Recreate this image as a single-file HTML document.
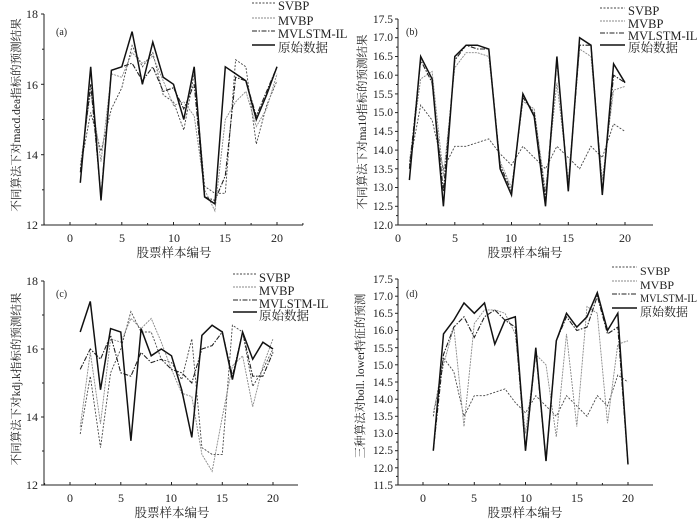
<!DOCTYPE html>
<html><head><meta charset="utf-8"><style>
html,body{margin:0;padding:0;background:#fff;}
svg{display:block;}
text{font-family:"Liberation Serif","Noto Serif CJK SC",serif;fill:#222;}
</style></head><body>
<svg id="s" width="700" height="522" viewBox="0 0 700 522" xmlns="http://www.w3.org/2000/svg">
<g font-size="12">
<!-- panel a -->
<text x="56" y="35" font-size="10">(a)</text>
<text x="38" y="18" text-anchor="end">18</text>
<text x="38" y="89" text-anchor="end">16</text>
<text x="38" y="159" text-anchor="end">14</text>
<text x="38" y="229" text-anchor="end">12</text>
<text x="70" y="242" text-anchor="middle">0</text>
<text x="122" y="242" text-anchor="middle">5</text>
<text x="174" y="242" text-anchor="middle">10</text>
<text x="225" y="242" text-anchor="middle">15</text>
<text x="277" y="242" text-anchor="middle">20</text>
<text x="174" y="257" text-anchor="middle" font-size="12.5">股票样本编号</text>
<text transform="translate(20,115) rotate(-90)" text-anchor="middle" font-size="11.5">不同算法下对macd.dea指标的预测结果</text>
<g font-size="12.5">
<text x="278" y="10">SVBP</text>
<text x="278" y="25">MVBP</text>
<text x="278" y="38">MVLSTM-IL</text>
<text x="278" y="52">原始数据</text>
</g>
<!-- panel b -->
<text x="406" y="35" font-size="10">(b)</text>
<g text-anchor="end" font-size="11.5">
<text x="393" y="23">17.5</text><text x="393" y="41">17.0</text><text x="393" y="60">16.5</text><text x="393" y="79">16.0</text><text x="393" y="98">15.5</text><text x="393" y="116">15.0</text><text x="393" y="135">14.5</text><text x="393" y="154">14.0</text><text x="393" y="173">13.5</text><text x="393" y="191">13.0</text><text x="393" y="210">12.5</text><text x="393" y="229">12.0</text>
</g>
<text x="398" y="242" text-anchor="middle">0</text>
<text x="455" y="242" text-anchor="middle">5</text>
<text x="511" y="242" text-anchor="middle">10</text>
<text x="568" y="242" text-anchor="middle">15</text>
<text x="625" y="242" text-anchor="middle">20</text>
<text x="525" y="257" text-anchor="middle" font-size="12.5">股票样本编号</text>
<text transform="translate(366,122) rotate(-90)" text-anchor="middle" font-size="11.5">不同算法下对ma10指标的预测结果</text>
<g font-size="12.5">
<text x="628" y="15">SVBP</text>
<text x="628" y="28">MVBP</text>
<text x="628" y="40">MVLSTM-IL</text>
<text x="628" y="52">原始数据</text>
</g>
<!-- panel c -->
<text x="56" y="297" font-size="10">(c)</text>
<text x="38" y="285" text-anchor="end">18</text>
<text x="38" y="353" text-anchor="end">16</text>
<text x="38" y="421" text-anchor="end">14</text>
<text x="38" y="489" text-anchor="end">12</text>
<text x="70" y="502" text-anchor="middle">0</text>
<text x="121" y="502" text-anchor="middle">5</text>
<text x="171" y="502" text-anchor="middle">10</text>
<text x="222" y="502" text-anchor="middle">15</text>
<text x="273" y="502" text-anchor="middle">20</text>
<text x="172" y="517" text-anchor="middle" font-size="12.5">股票样本编号</text>
<text transform="translate(20,379) rotate(-90)" text-anchor="middle" font-size="11.5">不同算法下对kdj.k指标的预测结果</text>
<g font-size="12.5">
<text x="259" y="282">SVBP</text>
<text x="259" y="295">MVBP</text>
<text x="259" y="308">MVLSTM-IL</text>
<text x="259" y="320">原始数据</text>
</g>
<!-- panel d -->
<text x="406" y="297" font-size="10">(d)</text>
<g text-anchor="end" font-size="11.5">
<text x="393" y="283">17.5</text><text x="393" y="300">17.0</text><text x="393" y="317">16.5</text><text x="393" y="334">16.0</text><text x="393" y="352">15.5</text><text x="393" y="369">15.0</text><text x="393" y="386">14.5</text><text x="393" y="403">14.0</text><text x="393" y="420">13.5</text><text x="393" y="437">13.0</text><text x="393" y="454">12.5</text><text x="393" y="472">12.0</text><text x="393" y="489">11.5</text>
</g>
<text x="423" y="502" text-anchor="middle">0</text>
<text x="474" y="502" text-anchor="middle">5</text>
<text x="526" y="502" text-anchor="middle">10</text>
<text x="577" y="502" text-anchor="middle">15</text>
<text x="628" y="502" text-anchor="middle">20</text>
<text x="525" y="517" text-anchor="middle" font-size="12.5">股票样本编号</text>
<text transform="translate(364,376) rotate(-90)" text-anchor="middle" font-size="11.5">三种算法对boll. lower特征的预测</text>
<g font-size="12">
<text x="640" y="275">SVBP</text>
<text x="640" y="289">MVBP</text>
<text x="640" y="302" textLength="57" lengthAdjust="spacingAndGlyphs">MVLSTM-IL</text>
<text x="640" y="316">原始数据</text>
</g>
</g>
<g id="plots"></g>
</svg>
<script>
var P=[
{ax:44,x0:70,x20:277,xr:303,yt:14,yb:225,vmax:18,vmin:12,step:2,leg:[252,275,[6,21,34,48]],
d:[
[13.6,15.2,14.1,15.3,15.9,17.1,16.5,16.9,15.7,15.5,14.7,16.3,13.1,12.9,12.9,16.7,16.5,14.3,15.4,16.1],
[13.7,15.8,13.8,16.3,16.2,16.9,16.6,16.8,16.1,15.4,15.5,15.1,13.0,12.4,15.0,15.5,15.8,14.8,15.3,16.3],
[13.5,16.0,12.8,16.4,16.5,16.6,16.1,16.5,15.8,15.9,15.3,16.0,12.8,12.7,13.4,16.2,16.1,15.1,15.8,16.5],
[13.2,16.5,12.7,16.4,16.5,17.5,16.0,17.2,16.2,16.0,15.0,16.5,12.8,12.6,16.5,16.3,16.1,15.0,15.7,16.5]]},
{ax:398,x0:398,x20:625,xr:653,yt:19,yb:225,vmax:17.5,vmin:12,step:0.5,leg:[600,625,[11,24,36,48]],
d:[
[13.6,15.2,14.8,13.5,14.1,14.1,14.2,14.3,13.9,13.6,14.1,13.8,13.5,14.1,13.8,13.5,14.1,13.8,14.7,14.5],
[13.7,15.9,16.1,13.3,16.2,16.6,16.6,16.5,13.7,13.0,15.3,15.1,12.9,15.8,13.2,16.7,16.5,13.2,15.6,15.7],
[13.5,16.4,15.8,12.9,16.4,16.8,16.7,16.7,13.6,12.9,15.4,15.0,12.7,16.4,13.0,16.8,16.8,12.9,16.0,15.8],
[13.2,16.5,15.9,12.5,16.5,16.8,16.8,16.7,13.5,12.8,15.5,14.9,12.5,16.5,12.9,17.0,16.8,12.8,16.3,15.8]]},
{ax:44,x0:70,x20:273,xr:298,yt:281,yb:485,vmax:18,vmin:12,step:2,leg:[233,257,[277,290,303,315]],
d:[
[13.5,15.2,13.1,15.3,16.0,17.1,16.5,16.5,15.7,15.6,15.1,16.3,13.1,12.9,12.9,16.7,16.5,14.9,15.4,16.0],
[13.7,15.9,13.8,16.3,16.2,16.9,16.6,16.9,16.2,15.4,14.7,14.6,12.9,12.4,14.0,15.5,15.8,14.3,15.5,16.3],
[15.4,16.0,15.7,16.4,15.3,15.2,15.9,15.6,15.7,15.4,15.3,15.0,16.0,16.1,16.5,15.2,16.5,15.2,15.2,15.9],
[16.5,17.4,14.8,16.6,16.5,13.3,16.6,15.8,16.0,15.8,14.8,13.4,16.4,16.7,16.5,15.1,16.5,15.7,16.2,16.0]]},
{ax:398,x0:423,x20:628,xr:653,yt:279,yb:485,vmax:17.5,vmin:11.5,step:0.5,leg:[612,637,[270,284,297,311]],
d:[
[13.5,15.2,14.8,13.5,14.1,14.1,14.2,14.3,13.9,13.6,14.1,13.8,13.5,14.1,13.8,13.5,14.1,13.8,14.7,14.5],
[13.6,15.0,16.1,13.2,16.2,16.6,16.6,16.5,15.9,13.0,15.3,15.0,12.9,15.9,13.2,16.7,16.5,13.3,15.6,15.7],
[12.5,15.3,16.1,16.4,15.8,16.4,16.6,16.3,16.1,12.5,15.4,12.2,15.7,16.4,16.0,16.1,17.0,15.9,16.1,12.1],
[12.5,15.9,16.3,16.8,16.5,16.8,15.6,16.3,16.4,12.5,15.5,12.2,15.7,16.5,16.1,16.4,17.1,16.0,16.5,12.1]]}
];
var ST=[
{c:"#444",w:0.9,da:"2,1.5"},
{c:"#888",w:0.9,da:"2,1"},
{c:"#222",w:1.1,da:"5,1.5,1.5,1.5"},
{c:"#111",w:1.5,da:""}];
var h="";
P.forEach(function(p){
 var sx=function(v){return p.x0+(p.x20-p.x0)*v/20;};
 var sy=function(v){return p.yb-(p.yb-p.yt)*(v-p.vmin)/(p.vmax-p.vmin);};
 h+='<path d="M'+p.ax+' '+p.yt+'V'+p.yb+'H'+p.xr+'" fill="none" stroke="#222" stroke-width="1"/>';
 for(var v=p.vmin;v<=p.vmax+1e-6;v+=p.step){var y=sy(v).toFixed(1);h+='<line x1="'+(p.ax-3)+'" y1="'+y+'" x2="'+p.ax+'" y2="'+y+'" stroke="#222"/>';}
 for(var v=p.vmin+p.step/2;v<p.vmax;v+=p.step){var y=sy(v).toFixed(1);h+='<line x1="'+(p.ax-2)+'" y1="'+y+'" x2="'+p.ax+'" y2="'+y+'" stroke="#222"/>';}
 for(var k=-2.5;k<=22.5;k+=2.5){var x=sx(k);if(x<p.ax||x>p.xr)continue;var L=(k%5==0)?3:2;h+='<line x1="'+x.toFixed(1)+'" y1="'+p.yb+'" x2="'+x.toFixed(1)+'" y2="'+(p.yb-L)+'" stroke="#222"/>';}
 p.d.forEach(function(s,i){
  var pts=s.map(function(v,j){return sx(j+1).toFixed(1)+','+sy(v).toFixed(1);}).join(' ');
  var st=ST[i];
  h+='<polyline points="'+pts+'" fill="none" stroke="'+st.c+'" stroke-width="'+st.w+'" stroke-dasharray="'+st.da+'" stroke-linejoin="miter"/>';
  var ly=p.leg[2][i]-3;
  h+='<line x1="'+p.leg[0]+'" y1="'+ly+'" x2="'+p.leg[1]+'" y2="'+ly+'" stroke="'+st.c+'" stroke-width="'+st.w+'" stroke-dasharray="'+st.da+'"/>';
 });
});
document.getElementById('plots').innerHTML=h;
</script>
</body></html>
